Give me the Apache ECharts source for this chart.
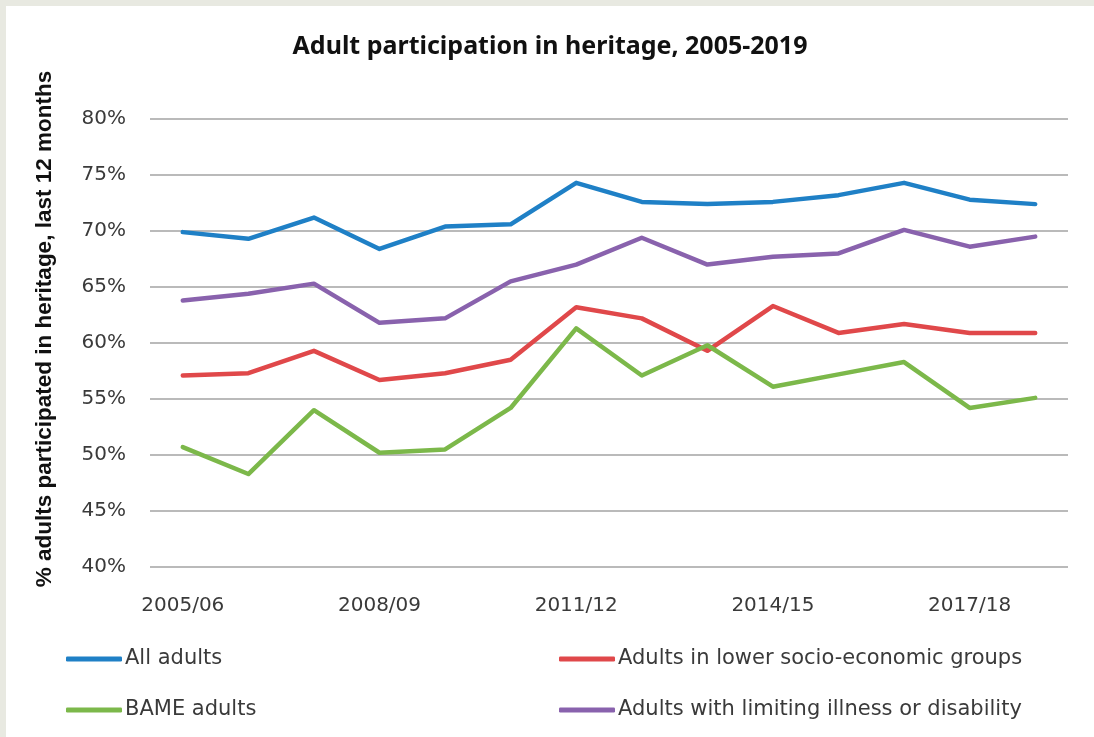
<!DOCTYPE html>
<html>
<head>
<meta charset="utf-8">
<script src="https://cdn.jsdelivr.net/npm/echarts@6/dist/echarts.min.js"></script>
<style>
  html, body { margin: 0; padding: 0; background: #e8e9e1; width: 1094px; height: 737px; overflow: hidden; }
  #chart { position: absolute; left: 6px; top: 6px; width: 1088px; height: 731px; background: #ffffff; }
</style>
</head>
<body>
<div id="chart"></div>
<script>
const categories = ['2005/06','2006/07','2007/08','2008/09','2009/10','2010/11','2011/12','2012/13','2013/14','2014/15','2015/16','2016/17','2017/18','2018/19'];
const allAdults   = [69.9, 69.3, 71.2, 68.4, 70.4, 70.6, 74.3, 72.6, 72.4, 72.6, 73.2, 74.3, 72.8, 72.4];
const lowerSEG    = [57.1, 57.3, 59.3, 56.7, 57.3, 58.5, 63.2, 62.2, 59.3, 63.3, 60.9, 61.7, 60.9, 60.9];
const bameAdults  = [50.7, 48.3, 54.0, 50.2, 50.5, 54.2, 61.3, 57.1, 59.8, 56.1, 57.2, 58.3, 54.2, 55.1];
const disability  = [63.8, 64.4, 65.3, 61.8, 62.2, 65.5, 67.0, 69.4, 67.0, 67.7, 68.0, 70.1, 68.6, 69.5];
const seriesNames = ['All adults', 'Adults in lower socio-economic groups', 'BAME adults', 'Adults with limiting illness or disability'];
const yTicks = { min: 40, max: 80, step: 5 };
const titleText = 'Adult participation in heritage, 2005-2019';
const yAxisTitle = '% adults participated in heritage, last 12 months';

const colors = ['#1f80c6', '#e0484a', '#7cb84a', '#8962ad'];
const textColor = '#3a3a3a';
const baseFont = 'DejaVu Sans';

const chart = echarts.init(document.getElementById('chart'), null, { renderer: 'canvas' });

function legendFor(name, left, centerY) {
  return {
    data: [name],
    left: left,
    top: centerY - 12,
    orient: 'horizontal',
    icon: 'roundRect',
    itemWidth: 56,
    itemHeight: 5,
    padding: 0,
    selectedMode: false,
    textStyle: { fontFamily: baseFont, fontSize: 21, color: textColor, lineHeight: 24, padding: [0, 0, 0, -2] }
  };
}

const option = {
  backgroundColor: '#ffffff',
  animation: false,
  title: {
    text: titleText,
    left: 'center',
    top: 23,
    textStyle: { fontFamily: 'Noto Sans', fontWeight: 'bold', fontSize: 25, color: '#111111' }
  },
  graphic: [{
    type: 'text',
    x: 39,
    y: 323,
    rotation: Math.PI / 2,
    style: {
      text: yAxisTitle,
      fontFamily: 'Liberation Sans',
      fontWeight: 'bold',
      fontSize: 22.5,
      fill: '#111111',
      align: 'center',
      verticalAlign: 'middle'
    }
  }],
  legend: [
    legendFor(seriesNames[0], 60, 653),
    legendFor(seriesNames[1], 553, 653),
    legendFor(seriesNames[2], 60, 704),
    legendFor(seriesNames[3], 553, 704)
  ],
  grid: { left: 144, right: 26, top: 113, bottom: 170 },
  xAxis: {
    type: 'category',
    data: categories,
    boundaryGap: true,
    axisLine: { show: false },
    axisTick: { show: false },
    axisLabel: { interval: 2, margin: 29, fontFamily: baseFont, fontSize: 20, color: textColor }
  },
  yAxis: {
    type: 'value',
    min: yTicks.min,
    max: yTicks.max,
    interval: yTicks.step,
    axisLine: { show: false },
    axisTick: { show: false },
    axisLabel: { margin: 24, formatter: '{value}%', fontFamily: baseFont, fontSize: 20, color: textColor },
    splitLine: { lineStyle: { color: '#a3a3a3', width: 1.5 } }
  },
  series: [
    { name: seriesNames[0], type: 'line', data: allAdults, color: colors[0] },
    { name: seriesNames[1], type: 'line', data: lowerSEG, color: colors[1] },
    { name: seriesNames[2], type: 'line', data: bameAdults, color: colors[2] },
    { name: seriesNames[3], type: 'line', data: disability, color: colors[3] }
  ].map(s => Object.assign(s, {
    symbol: 'none',
    smooth: false,
    lineStyle: { width: 4.5, color: s.color, cap: 'round', join: 'round' },
    itemStyle: { color: s.color }
  }))
};

chart.setOption(option);
</script>
</body>
</html>
